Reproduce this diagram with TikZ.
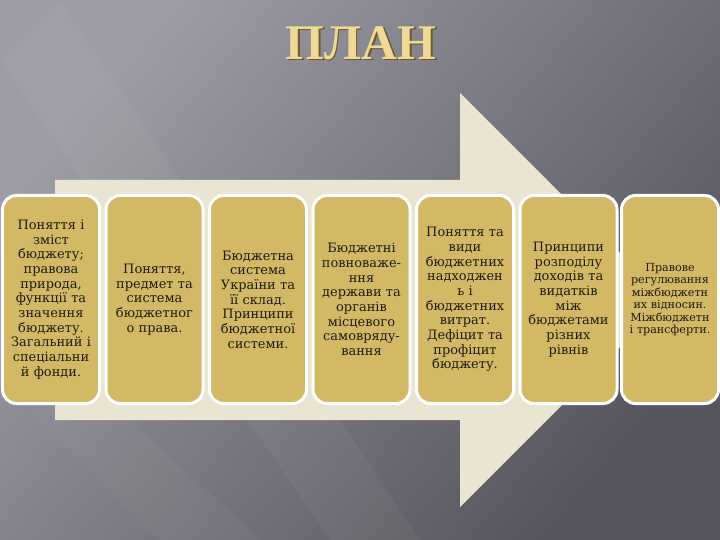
\documentclass[tikz,border=0pt]{standalone}
\usepackage{fontspec}
\setmainfont{DejaVu Serif}
\newfontfamily\titlefont{Liberation Serif}
\definecolor{bgdark}{HTML}{56545C}
\definecolor{bglight}{HTML}{9E9DA5}
\definecolor{arrowcream}{HTML}{EAE4D3}
\definecolor{boxgold}{HTML}{D3B966}
\definecolor{titlegold}{HTML}{EFD994}
\definecolor{titledark}{HTML}{6B5A2E}
\definecolor{inkbrown}{HTML}{1E1A10}
\tikzset{
  planbox/.style={draw=white, line width=3bp, fill=boxgold, rounded corners=14bp,
    minimum width=97bp, minimum height=208bp, text width=94bp, align=center,
    inner sep=0pt, text=inkbrown, font=\fontsize{13}{14.7}\selectfont},
  smallbox/.style={planbox, font=\fontsize{11.2}{12.6}\selectfont},
  titletext/.style={font=\titlefont\bfseries\fontsize{50}{50}\selectfont}
}
\begin{document}
\begin{tikzpicture}[x=1bp, y=-1bp]
			\useasboundingbox (0,0) rectangle (720,540);
			\shade[left color=bglight, right color=bgdark, shading angle=50] (0,0) rectangle (720,540);
			\fill[white, opacity=0.04] (0,60) -- (60,0) -- (420,540) -- (330,540) -- cycle;
			\fill[white, opacity=0.03] (0,300) -- (0,380) -- (160,540) -- (260,540) -- cycle;
			
			\node[titletext, text=titledark] (titleshade) at (362.5,44.5) {ПЛАН};
			\node[titletext, text=titlegold] (title) at (361,43) {ПЛАН};
			
			\fill[arrowcream] (55,180) -- (460,180) -- (460,93) -- (667,300) -- (460,507) -- (460,420) -- (55,420) -- cycle;
			
			\node[planbox] (b1) at (51,299.5) {Поняття і\\ зміст\\ бюджету;\\ правова\\ природа,\\ функції та\\ значення\\ бюджету.\\ Загальний і\\ спеціальни\\ й фонди.};
			\node[planbox] (b2) at (154.5,299.5) {Поняття,\\ предмет та\\ система\\ бюджетног\\ о права.};
			\node[planbox] (b3) at (258,299.5) {Бюджетна\\ система\\ України та\\ її склад.\\ Принципи\\ бюджетної\\ системи.};
			\node[planbox] (b4) at (361.5,299.5) {Бюджетні\\ повноваже-\\ ння\\ держави та\\ органів\\ місцевого\\ самовряду-\\ вання};
			\node[planbox] (b5) at (465,299.5) {Поняття та\\ види\\ бюджетних\\ надходжен\\ ь і\\ бюджетних\\ витрат.\\ Дефіцит та\\ профіцит\\ бюджету.};
			\node[planbox] (b6) at (568.5,299.5) {Принципи\\ розподілу\\ доходів та\\ видатків\\ між\\ бюджетами\\ різних\\ рівнів};
			\node[smallbox] (b7) at (670,299.5) {Правове\\ регулювання\\ міжбюджетн\\ их відносин.\\ Міжбюджетн\\ і трансферти.};
		
		\end{tikzpicture}
\end{document}
